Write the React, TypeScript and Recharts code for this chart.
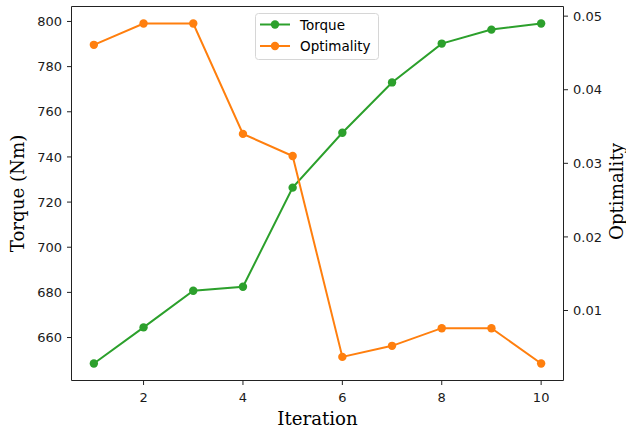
import React from 'react';
import {
  LineChart,
  Line,
  XAxis,
  YAxis,
  Legend,
  CartesianGrid,
} from 'recharts';

// Iteration index along the x axis
const iterations = [1, 2, 3, 4, 5, 6, 7, 8, 9, 10];
// Torque per iteration (Nm), left axis
const torque = [648.5, 664.5, 680.7, 682.5, 726.4, 750.7, 773.0, 790.2, 796.4, 799.1];
// Optimality per iteration, right axis
const optimality = [0.0461, 0.049, 0.049, 0.034, 0.031, 0.0037, 0.0052, 0.0076, 0.0076, 0.0028];
// Series names in plotting order
const seriesNames = ['Torque', 'Optimality'];

const xTicks = [2, 4, 6, 8, 10];
const torqueTicks = [660, 680, 700, 720, 740, 760, 780, 800];
const optTicks = [0.01, 0.02, 0.03, 0.04, 0.05];

const GREEN = '#2ca02c';
const ORANGE = '#ff7f0e';
const SANS = 'DejaVu Sans';
const SERIF = 'DejaVu Serif';
const TICK_FONT = 13;
const LEGEND_FONT = 13.5;
const LABEL_FONT = 18.2;
const LINE_W = 2;
const DOT_R = 4.2;

const data = iterations.map((it, i) => ({
  iteration: it,
  torque: torque[i],
  optimality: optimality[i],
}));

// matplotlib-style 5% padding around the data range
const pad = (vals: number[]): [number, number] => {
  const lo = Math.min(...vals);
  const hi = Math.max(...vals);
  const m = (hi - lo) * 0.05;
  return [lo - m, hi + m];
};

const tickStyle = { fontSize: TICK_FONT, fill: '#1a1a1a', fontFamily: SANS };
const axisStroke = { stroke: '#222', strokeWidth: 1 };

const LegendBox = (props: any) => {
  const items = [...(props.payload || [])].sort(
    (a: any, b: any) => seriesNames.indexOf(a.value) - seriesNames.indexOf(b.value)
  );
  return (
    <svg width={124} height={47} style={{ display: 'block' }}>
      <rect x={0.5} y={0.5} width={123} height={46} rx={3} ry={3}
        fill="rgba(255,255,255,0.8)" stroke="#d6d6d6" strokeWidth={1} />
      {items.map((it: any, i: number) => {
        const cy = 11.5 + i * 21.5;
        return (
          <g key={it.value}>
            <line x1={5} x2={35} y1={cy} y2={cy} stroke={it.color} strokeWidth={LINE_W} />
            <circle cx={20} cy={cy} r={DOT_R} fill={it.color} />
            <text x={45} y={cy} dominantBaseline="central" fontSize={LEGEND_FONT}
              fontFamily={SANS} fill="#000">{it.value}</text>
          </g>
        );
      })}
    </svg>
  );
};

// rotated axis title; dx is the baseline position inside the axis band
const sideLabel = (text: string, dx: number, dy: number) => (p: any) => {
  const vb = p.viewBox;
  const cx = vb.x + dx;
  const cy = vb.y + vb.height / 2 + dy;
  return (
    <text x={cx} y={cy} transform={`rotate(-90 ${cx} ${cy})`} textAnchor="middle"
      fontSize={LABEL_FONT} fontFamily={SERIF} fill="#000">
      {text}
    </text>
  );
};

const bottomLabel = (p: any) => {
  const vb = p.viewBox;
  return (
    <text x={vb.x + vb.width / 2} y={vb.y + 44} textAnchor="middle"
      fontSize={LABEL_FONT} fontFamily={SERIF} fill="#000">
      Iteration
    </text>
  );
};

export default function App() {
  return (
    <div style={{ position: 'absolute', left: 0, top: 0 }}>
      <LineChart width={626} height={431} data={data}
        margin={{ top: 6.5, right: 0, left: 0, bottom: 0 }}>
        {/* top spine of the frame */}
        <CartesianGrid yAxisId="left" vertical={false} stroke="#222" strokeWidth={1}
          horizontalCoordinatesGenerator={({ offset }: any) => [offset.top]} />
        <XAxis dataKey="iteration" type="number" domain={[0.55, 10.45]} ticks={xTicks}
          height={50.5} tick={tickStyle} tickSize={4.5} tickMargin={8}
          axisLine={axisStroke} tickLine={axisStroke} allowDataOverflow
          label={bottomLabel} />
        <YAxis yAxisId="left" orientation="left" width={71.5} type="number"
          domain={pad(torque)} ticks={torqueTicks} allowDataOverflow
          tick={tickStyle} tickSize={4.5} tickMargin={5}
          axisLine={axisStroke} tickLine={axisStroke}
          label={sideLabel('Torque (Nm)', 23.5, 0)} />
        <YAxis yAxisId="right" orientation="right" width={62.5} type="number"
          domain={pad(optimality)} ticks={optTicks} allowDataOverflow
          tickFormatter={(v: number) => v.toFixed(2)}
          tick={tickStyle} tickSize={4.5} tickMargin={5}
          axisLine={axisStroke} tickLine={axisStroke}
          label={sideLabel('Optimality', 59, -2)} />
        <Legend layout="horizontal" verticalAlign="middle" align="center"
          wrapperStyle={{ left: 255, top: 13, width: 124, height: 47 }}
          content={<LegendBox />} />
        <Line yAxisId="left" dataKey="torque" name={seriesNames[0]} stroke={GREEN} strokeWidth={LINE_W}
          dot={{ r: DOT_R, fill: GREEN, stroke: GREEN, strokeWidth: 0 }} activeDot={false}
          isAnimationActive={false} />
        <Line yAxisId="right" dataKey="optimality" name={seriesNames[1]} stroke={ORANGE} strokeWidth={LINE_W}
          dot={{ r: DOT_R, fill: ORANGE, stroke: ORANGE, strokeWidth: 0 }} activeDot={false}
          isAnimationActive={false} />
      </LineChart>
    </div>
  );
}
